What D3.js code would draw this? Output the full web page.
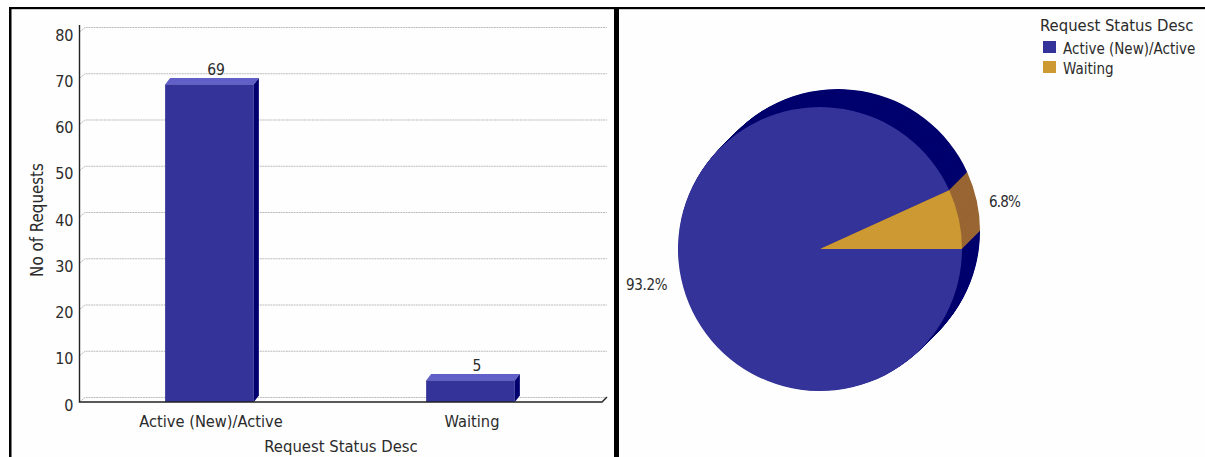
<!DOCTYPE html>
<html>
<head>
<meta charset="utf-8">
<script src="https://cdn.jsdelivr.net/npm/d3@7"></script>
<style>
  html, body { margin: 0; padding: 0; background: #fefefe; overflow: hidden; }
  svg { display: block; }
  text { font-family: "DejaVu Sans Condensed", "DejaVu Sans", sans-serif; font-stretch: condensed; fill: #2b2b2b; }
</style>
</head>
<body>
<svg width="1205" height="457"></svg>
<script>
// Request status: bar chart on the left, 3D-looking pie on the right.

const categories = ["Active (New)/Active", "Waiting"];
const requestCounts = [69, 5];
const pieShares = [93.2, 6.8];
const yTicks = [0, 10, 20, 30, 40, 50, 60, 70, 80];

const faceColors = ["#333399", "#cc9933"];
const sideColors = ["#00006e", "#996633"];
const barTopColor = "#6060c8";

const svg = d3.select("svg");

// ---- frame ----
svg.append("rect").attr("x", 9).attr("y", 7).attr("width", 1196).attr("height", 2).attr("fill", "#000");
svg.append("rect").attr("x", 9).attr("y", 9).attr("width", 1196).attr("height", 0.7).attr("fill", "#bbb");
svg.append("rect").attr("x", 9).attr("y", 7).attr("width", 2.5).attr("height", 450).attr("fill", "#000");
svg.append("rect").attr("x", 614).attr("y", 7).attr("width", 5).attr("height", 450).attr("fill", "#000");

// ---- bar chart ----
const depthX = 5;
const depthY = 6.5;
const baseY = 402;
const axisX = 79.5;

const xScale = d3
  .scaleBand()
  .domain(categories)
  .range([79, 601])
  .paddingInner(0.66)
  .paddingOuter(0.33);

const yScale = d3.scaleLinear().domain([0, 80]).range([403.5, 33.5]);

const grid = svg.append("g").attr("fill", "none").attr("stroke", "#bdbdbd").attr("stroke-dasharray", "2 0.6");
yTicks.forEach((t) => {
  const y = yScale(t) - depthY;
  grid
    .append("path")
    .attr("d", `M${axisX},${y + 5}L${axisX + 5.5},${y + 0.5}L607,${y + 0.5}`);
});

const bars = svg
  .selectAll(".bar")
  .data(categories)
  .enter()
  .append("g")
  .attr("class", "bar");

bars
  .append("path")
  .attr("fill", barTopColor)
  .attr("d", (d, i) => {
    const x0 = xScale(d);
    const x1 = x0 + xScale.bandwidth();
    const y = yScale(requestCounts[i]);
    return `M${x0},${y}L${x0 + depthX},${y - depthY}L${x1 + depthX},${y - depthY}L${x1},${y}Z`;
  });

bars
  .append("path")
  .attr("fill", sideColors[0])
  .attr("d", (d, i) => {
    const x1 = xScale(d) + xScale.bandwidth();
    const y = yScale(requestCounts[i]);
    return `M${x1},${y}L${x1 + depthX},${y - depthY}L${x1 + depthX},${baseY - depthY}L${x1},${baseY}Z`;
  });

bars
  .append("rect")
  .attr("fill", faceColors[0])
  .attr("x", (d) => xScale(d))
  .attr("width", xScale.bandwidth())
  .attr("y", (d, i) => yScale(requestCounts[i]))
  .attr("height", (d, i) => baseY - yScale(requestCounts[i]));

bars
  .append("text")
  .attr("x", (d) => xScale(d) + xScale.bandwidth() / 2 + 6.5)
  .attr("y", (d, i) => yScale(requestCounts[i]) - 9)
  .attr("text-anchor", "middle")
  .attr("font-size", 15.5)
  .text((d, i) => requestCounts[i]);

const yAxis = d3.axisLeft(yScale).tickValues(yTicks).tickSize(0).tickPadding(6);
const yAxisG = svg.append("g").attr("transform", `translate(${axisX},1.5)`).call(yAxis);
yAxisG.select(".domain").remove();
yAxisG.selectAll("text").attr("font-size", 16).attr("font-family", null);

const xAxis = d3.axisBottom(xScale).tickSize(0).tickPadding(13);
const xAxisG = svg.append("g").attr("transform", `translate(0,${baseY})`).call(xAxis);
xAxisG.select(".domain").remove();
xAxisG.selectAll("text").attr("font-size", 16.3).attr("font-family", null).attr("dx", 1.5);

svg
  .append("path")
  .attr("fill", "none")
  .attr("stroke", "#222")
  .attr("stroke-width", 1.4)
  .attr("d", `M${axisX},25L${axisX},${baseY}L602,${baseY}L607,397`);

svg
  .append("text")
  .attr("x", 341)
  .attr("y", 452)
  .attr("text-anchor", "middle")
  .attr("font-size", 16.5)
  .text("Request Status Desc");

svg
  .append("text")
  .attr("transform", "translate(43,220) rotate(-90)")
  .attr("text-anchor", "middle")
  .attr("font-size", 16.8)
  .text("No of Requests");

// ---- pie ----
const cx = 820;
const cy = 249;
const radius = 142;
const pieDepth = 18;

const pie = d3
  .pie()
  .sort(null)
  .startAngle(Math.PI / 2)
  .endAngle(Math.PI / 2 + 2 * Math.PI);
const slices = pie(pieShares);
const arc = d3.arc().innerRadius(0).outerRadius(radius);

// extrusion: stacked copies of the slices from back to front
const side = svg.append("g");
d3.range(pieDepth, 0, -0.5).forEach((off) => {
  side
    .append("g")
    .attr("transform", `translate(${cx + off},${cy - off})`)
    .selectAll("path")
    .data(slices)
    .enter()
    .append("path")
    .attr("d", arc)
    .attr("fill", (d, i) => sideColors[i]);
});

svg
  .append("g")
  .attr("transform", `translate(${cx},${cy})`)
  .selectAll("path")
  .data(slices)
  .enter()
  .append("path")
  .attr("d", arc)
  .attr("fill", (d, i) => faceColors[i]);

svg.append("text").attr("x", 626).attr("y", 290).attr("font-size", 15).attr("letter-spacing", -0.3).text(pieShares[0].toFixed(1) + "%");
svg.append("text").attr("x", 989).attr("y", 207).attr("font-size", 15).attr("letter-spacing", -0.8).text(pieShares[1].toFixed(1) + "%");

// ---- legend ----
svg.append("text").attr("x", 1040).attr("y", 31).attr("font-size", 16.5).text("Request Status Desc");

const legend = svg
  .selectAll(".legend-item")
  .data(categories)
  .enter()
  .append("g")
  .attr("class", "legend-item")
  .attr("transform", (d, i) => `translate(1043,${41 + i * 20})`);

legend
  .append("rect")
  .attr("width", 13)
  .attr("height", 12)
  .attr("fill", (d, i) => faceColors[i]);

legend
  .append("text")
  .attr("x", 20)
  .attr("y", 13)
  .attr("font-size", 15)
  .text((d) => d);
</script>
</body>
</html>
